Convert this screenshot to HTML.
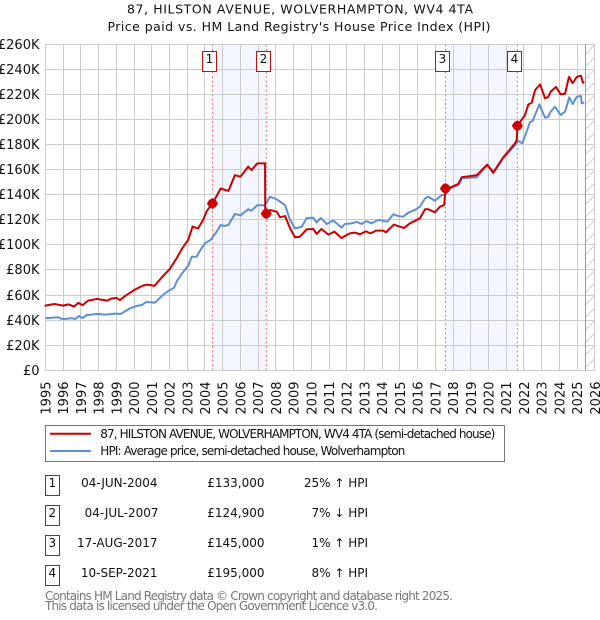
<!DOCTYPE html>
<html lang="en">
<head>
<meta charset="utf-8">
<title>87, Hilston Avenue price chart</title>
<style>
html,body{margin:0;padding:0;background:#fff;width:600px;height:620px;overflow:hidden}
svg{display:block;font-family:"DejaVu Sans","Liberation Sans",sans-serif}
</style>
</head>
<body>
<svg id="chart" xmlns="http://www.w3.org/2000/svg" width="600" height="620" viewBox="0 0 600 620">
  <defs>
    <pattern id="hatch" patternUnits="userSpaceOnUse" width="12.54" height="12.54">
      <path d="M0 12.54 L12.54 0" stroke="#cccccc" stroke-width="1" fill="none"/>
    </pattern>
  </defs>
  <g text-anchor="middle" fill="#111">
    <text x="300" y="13.5" font-size="12.5" textLength="346" lengthAdjust="spacing">87, HILSTON AVENUE, WOLVERHAMPTON, WV4 4TA</text>
    <text x="299" y="31" font-size="12.5" textLength="383" lengthAdjust="spacing">Price paid vs. HM Land Registry's House Price Index (HPI)</text>
  </g>
  <g id="bands"></g>
  <g id="grid"></g>
  <g id="ticks" font-size="13" fill="#111"></g>
  <g id="series"></g>
  <g id="sales"></g>

  <g>
    <rect x="45.5" y="425.5" width="459" height="36" fill="#fff" stroke="#777" stroke-width="1"/>
    <line x1="50" x2="91" y1="433.7" y2="433.7" stroke="#cc0000" stroke-width="2"/>
    <text x="100.3" y="438" font-size="12" fill="#111" textLength="395" lengthAdjust="spacing">87, HILSTON AVENUE, WOLVERHAMPTON, WV4 4TA (semi-detached house)</text>
    <line x1="50" x2="91" y1="451" y2="451" stroke="#5f8fd3" stroke-width="2"/>
    <text x="100.3" y="455.2" font-size="12" fill="#111" textLength="305" lengthAdjust="spacing">HPI: Average price, semi-detached house, Wolverhampton</text>
  </g>

  <g font-size="12" fill="#111">
    <g>
      <rect x="45.5" y="475.5" width="14" height="20" fill="#fff" stroke="#bb1111"/>
      <text x="52.3" y="487" text-anchor="middle">1</text>
      <text x="157.5" y="487" text-anchor="end">04-JUN-2004</text>
      <text x="264.5" y="487" text-anchor="end">£133,000</text>
      <text x="368" y="487" text-anchor="end">25% ↑ HPI</text>
    </g>
    <g>
      <rect x="45.5" y="505.5" width="14" height="20" fill="#fff" stroke="#bb1111"/>
      <text x="52.3" y="517" text-anchor="middle">2</text>
      <text x="158.5" y="517" text-anchor="end">04-JUL-2007</text>
      <text x="264.5" y="517" text-anchor="end">£124,900</text>
      <text x="368" y="517" text-anchor="end">7% ↓ HPI</text>
    </g>
    <g>
      <rect x="45.5" y="535.5" width="14" height="20" fill="#fff" stroke="#bb1111"/>
      <text x="52.3" y="547" text-anchor="middle">3</text>
      <text x="157.5" y="547" text-anchor="end">17-AUG-2017</text>
      <text x="264.5" y="547" text-anchor="end">£145,000</text>
      <text x="368" y="547" text-anchor="end">1% ↑ HPI</text>
    </g>
    <g>
      <rect x="45.5" y="565.5" width="14" height="20" fill="#fff" stroke="#bb1111"/>
      <text x="52.3" y="577" text-anchor="middle">4</text>
      <text x="157.5" y="577" text-anchor="end">10-SEP-2021</text>
      <text x="264.5" y="577" text-anchor="end">£195,000</text>
      <text x="368" y="577" text-anchor="end">8% ↑ HPI</text>
    </g>
  </g>

  <g font-size="12" fill="#777">
    <text x="45" y="600" textLength="408" lengthAdjust="spacing">Contains HM Land Registry data © Crown copyright and database right 2025.</text>
    <text x="45" y="610" textLength="333" lengthAdjust="spacing">This data is licensed under the Open Government Licence v3.0.</text>
  </g>
</svg>
<script>
var yearTicks = [1995,1996,1997,1998,1999,2000,2001,2002,2003,2004,2005,2006,2007,2008,2009,2010,2011,2012,2013,2014,2015,2016,2017,2018,2019,2020,2021,2022,2023,2024,2025,2026];
var priceTicks = [0,20,40,60,80,100,120,140,160,180,200,220,240,260];
var priceTickLabels = ["£0","£20K","£40K","£60K","£80K","£100K","£120K","£140K","£160K","£180K","£200K","£220K","£240K","£260K"];

var saleNumbers = [1,2,3,4];
var saleDates = [2004.42,2007.46,2017.57,2021.63];
var salePrices = [133,124.9,145,195];
var dataEndYear = 2025.5;

var hpiDates = [1995,1995.25,1995.72,1995.91,1996.2,1996.4,1996.7,1996.89,1997.08,1997.32,1997.9,1998.4,1998.92,1999.24,1999.77,2000.14,2000.43,2000.7,2001.18,2001.65,2001.93,2002.25,2002.4,2002.68,2003.06,2003.25,2003.53,2003.72,2004,2004.32,2004.66,2004.89,2005.08,2005.32,2005.69,2006,2006.44,2006.63,2006.95,2007.38,2007.67,2008.05,2008.52,2008.8,2009.08,2009.46,2009.74,2010.11,2010.3,2010.53,2010.86,2011.24,2011.43,2011.71,2011.9,2012.28,2012.56,2012.84,2013.12,2013.4,2013.78,2014.29,2014.63,2014.91,2015.19,2015.47,2015.85,2016.13,2016.42,2016.6,2016.98,2017.36,2017.55,2017.83,2018.3,2018.49,2019.33,2019.93,2020.27,2020.83,2021.5,2021.68,2021.91,2022.34,2022.49,2022.87,2023.19,2023.36,2023.51,2023.75,2024.07,2024.32,2024.56,2024.75,2024.98,2025.22,2025.26,2025.4];
var hpiValues = [41.7,41.8,42.3,41,41,41.5,41,43.3,41.7,44,44.9,44.4,45.2,44.9,49.4,51.3,52.1,54.5,54,60.3,63.3,65.7,70.7,76.8,83.5,90.6,90.6,95.4,101.3,104,110.6,115.9,115,115.9,124.7,123.6,128.4,127.3,131.6,131.6,138.4,136.3,131.8,119.8,113.2,114.5,121.5,121.7,117.8,121.5,116.7,119.4,117.2,113.8,116.7,117.2,118.3,116.7,119,117.2,119.9,118.6,124.4,123,122.5,125.7,127.9,130.5,137.1,138.4,135.2,139.8,140,145.1,147.8,153,153.9,163.7,157,169,179.7,182.9,181,197.8,198.8,212,201.5,202,206.2,210.2,203.6,206.2,217.7,212.4,218.2,218.7,212.9,213.5];

var priceDates = [1994.95,1995.5,1996,1996.3,1996.6,1996.85,1997.1,1997.4,1997.9,1998.5,1998.7,1999,1999.2,1999.5,2000,2000.5,2000.75,2001.15,2001.6,2002,2002.4,2002.75,2003.05,2003.3,2003.6,2003.9,2004.1,2004.42,2004.89,2005.32,2005.69,2006,2006.44,2006.63,2006.95,2007.39,2007.4,2007.46,2007.67,2008.05,2008.23,2008.52,2008.8,2009.08,2009.36,2009.74,2010.11,2010.3,2010.58,2010.96,2011.3,2011.71,2012,2012.18,2012.46,2012.75,2013.08,2013.35,2013.65,2014.06,2014.21,2014.66,2014.97,2015.23,2015.57,2016.13,2016.42,2016.6,2016.98,2017.26,2017.5,2017.57,2017.83,2018.3,2018.49,2019.33,2019.93,2020.27,2020.83,2021.5,2021.6,2021.63,2022.06,2022.25,2022.44,2022.63,2022.91,2023.19,2023.37,2023.51,2023.81,2024.07,2024.32,2024.54,2024.75,2024.98,2025.22,2025.32,2025.4];
var priceValues = [51.5,52.9,51.6,52.6,50.8,53.7,52,55.6,56.9,55.6,57.2,57.7,56,59.3,64,67.5,68.3,67.3,74.7,80.5,89.3,98,104,114.6,113,120,127,133,145,143,155.6,154.4,162.4,159.7,165,165,125,124.9,127.8,126.5,122,123,113.3,106,106.6,112.4,112.7,108.7,112.7,108.2,110.6,105.5,107.9,109.2,109.8,108.5,110.8,109.2,111.4,111.4,110,116.2,114.6,113.5,117.2,121.2,128.4,128.4,126,130.5,131.8,145,145.6,148.6,154,155.5,164,157.8,169.8,181,184,195,203.6,212,213.4,223.5,228,216.9,218,222.2,226,220,220.5,234,228.9,234,234.9,229.3,230];

var NS = "http://www.w3.org/2000/svg";
var plotLeft = 45.5, plotTop = 44.5, plotBottom = 370.5, pxPerYear = 17.72, pxPerK = 1.254;
function xAt(year){ return plotLeft + (year - 1995) * pxPerYear; }
function yAt(k){ return plotBottom - 0.2 - k * pxPerK; }
function snap(v){ return Math.floor(v) + 0.5; }
function make(tag, attrs, parent){
  var el = document.createElementNS(NS, tag);
  for (var key in attrs) el.setAttribute(key, attrs[key]);
  parent.appendChild(el);
  return el;
}
var gridG = document.getElementById("grid");
var ticksG = document.getElementById("ticks");
var bandsG = document.getElementById("bands");
var seriesG = document.getElementById("series");
var salesG = document.getElementById("sales");
var plotRight = snap(xAt(2026));

function drawBand(a, b){
  var r = make("rect", {x:xAt(a), y:plotTop, width:xAt(b)-xAt(a), height:plotBottom-plotTop, fill:"#f3f6fe"}, bandsG);
  
  
}
drawBand(saleDates[0], saleDates[1]);
drawBand(saleDates[2], saleDates[3]);

var hatch = make("rect", {x:xAt(dataEndYear), y:plotTop, width:plotRight-xAt(dataEndYear), height:plotBottom-plotTop, fill:"url(#hatch)"}, bandsG);



yearTicks.forEach(function(year){
  var x = snap(xAt(year));
  var line = make("line", {x1:x, x2:x, y1:plotTop, y2:plotBottom, stroke:"#cccccc", "stroke-width":1}, gridG);
  
  
  var label = make("text", {transform:"translate(" + (xAt(year) + 5) + ",381.5) rotate(-90)", "text-anchor":"end"}, ticksG);
  label.textContent = year;
  
  
});
priceTicks.forEach(function(k, i){
  var y = snap(yAt(k));
  var line = make("line", {x1:plotLeft, x2:plotRight, y1:y, y2:y, stroke:"#cccccc", "stroke-width":1}, gridG);
  
  
  var label = make("text", {x:39.5, y:y + 4.7, "text-anchor":"end"}, ticksG);
  label.textContent = priceTickLabels[i];
  
  
});

var endLine = make("line", {x1:snap(xAt(dataEndYear)), x2:snap(xAt(dataEndYear)), y1:plotTop, y2:plotBottom, stroke:"#999999", "stroke-width":1}, gridG);



function pathFrom(dates, values){
  return dates.map(function(d, i){ return (i ? "L" : "M") + xAt(d).toFixed(2) + " " + yAt(values[i]).toFixed(2); }).join(" ");
}
var hpiLine = make("path", {d:pathFrom(hpiDates, hpiValues), fill:"none", stroke:"#5f8fd3", "stroke-width":2, "stroke-linejoin":"round"}, seriesG);


var priceLine = make("path", {d:pathFrom(priceDates, priceValues), fill:"none", stroke:"#cc0000", "stroke-width":2, "stroke-linejoin":"round"}, seriesG);



saleDates.forEach(function(d, i){
  var x = xAt(d);
  var drop = make("line", {x1:x, x2:x, y1:plotTop, y2:plotBottom, stroke:"#ff6b6b", "stroke-width":1, "stroke-dasharray":"2 2.5"}, bandsG);
  
  
  var y = yAt(salePrices[i]);
  var marker = make("path", {d:"M" + x + " " + (y-5.5) + " L" + (x+3.4) + " " + (y-3.4) + " L" + (x+5.5) + " " + y + " L" + (x+3.4) + " " + (y+3.4) + " L" + x + " " + (y+5.5) + " L" + (x-3.4) + " " + (y+3.4) + " L" + (x-5.5) + " " + y + " L" + (x-3.4) + " " + (y-3.4) + " Z", fill:"#cc0000"}, salesG);
  
  
  var box = make("rect", {x:Math.floor(x - 3) - 6.5, y:51.5, width:14, height:20, fill:"#fff", stroke:"#bb1111", "stroke-width":1}, salesG);
  
  
  var num = make("text", {x:Math.floor(x - 3) + 0.5, y:63, "text-anchor":"middle", "font-size":12, fill:"#111"}, salesG);
  num.textContent = saleNumbers[i];
  
  
});
</script>
</body>
</html>
